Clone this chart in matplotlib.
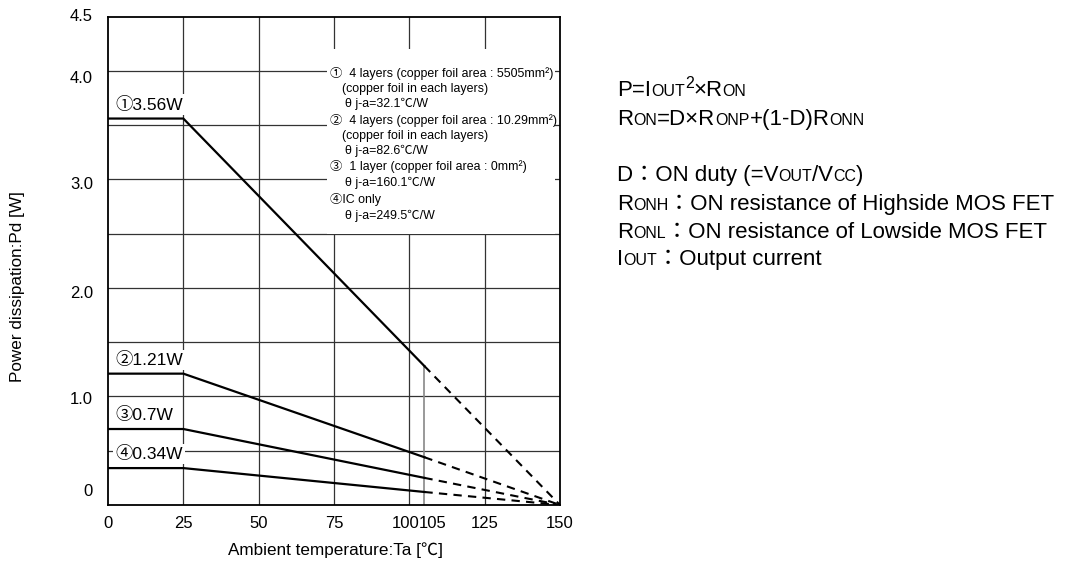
import matplotlib
matplotlib.use('Agg')
import matplotlib.pyplot as plt
from matplotlib.patches import Rectangle

plt.rcParams['font.family'] = ['Liberation Sans', 'Noto Sans CJK JP', 'DejaVu Sans']

# derating curves: solid part 0..105 degC, dashed part 105..150 degC
ta_solid = [0, 25, 105]
ta_dash = [105, 150]
pd_1 = [3.56, 3.56, 1.28]
pd_2 = [1.21, 1.21, 0.44]
pd_3 = [0.70, 0.70, 0.25]
pd_4 = [0.34, 0.34, 0.12]
curves = [pd_1, pd_2, pd_3, pd_4]
curve_labels = ['①3.56W', '②1.21W', '③0.7W', '④0.34W']

x_ticks = [0, 25, 50, 75, 100, 105, 125, 150]
x_grid = [25, 50, 75, 100, 125]
y_ticks = [0, 1.0, 2.0, 3.0, 4.0, 4.5]
y_ticklabels = ['0', '1.0', '2.0', '3.0', '4.0', '4.5']
y_grid = [0.5, 1.0, 1.5, 2.0, 2.5, 3.0, 3.5, 4.0]

legend_lines = [
    ('①  4 layers (copper foil area : 5505mm²)', 0),
    ('(copper foil in each layers)', 1),
    ('θ j-a=32.1℃/W', 2),
    ('②  4 layers (copper foil area : 10.29mm²)', 0),
    ('(copper foil in each layers)', 1),
    ('θ j-a=82.6℃/W', 2),
    ('③  1 layer (copper foil area : 0mm²)', 0),
    ('θ j-a=160.1℃/W', 2),
    ('④IC only', 0),
    ('θ j-a=249.5℃/W', 2),
]

W, H = 1065, 567
fig = plt.figure(figsize=(W / 100, H / 100), dpi=100)
ax = fig.add_axes([108 / W, 62 / H, 452 / W, 488.5 / H])
ax.set_xlim(0, 150)
ax.set_ylim(0, 4.5)

for g in x_grid:
    ax.axvline(g, color='#333333', lw=0.9, zorder=1)
for g in y_grid:
    ax.axhline(g, color='#333333', lw=0.9, zorder=1)
# partial line at 105 degC
ax.plot([105, 105], [0, pd_1[-1]], color='#888888', lw=1.2, zorder=1)

# white area behind the note
ax.add_patch(Rectangle((0.485, 2.5), 0.505, 1.7, transform=ax.get_yaxis_transform(),
                       facecolor='white', edgecolor='none', zorder=2))

for pd_vals, lab in zip(curves, curve_labels):
    ax.plot(ta_solid, pd_vals, color='black', lw=1.6, zorder=4)
    ax.plot(ta_dash, [pd_vals[-1], 0], color='black', lw=1.5, ls=(0, (4, 3)), zorder=4)
    ax.annotate(lab, (2.3, pd_vals[0]), xytext=(0, 9), textcoords='offset pixels',
                ha='left', va='baseline', fontsize=12.5, zorder=3,
                bbox=dict(boxstyle='square,pad=0.12', fc='white', ec='none'))

ys = [0.883, 0.852, 0.822, 0.787, 0.756, 0.725, 0.693, 0.660, 0.625, 0.592]
indent = [0.491, 0.518, 0.525]
for (txt, lvl), yy in zip(legend_lines, ys):
    ax.text(indent[lvl], yy, txt, transform=ax.transAxes, fontsize=8.9,
            ha='left', va='center', zorder=5)

ax.set_xticks(x_ticks)
ax.set_yticks(y_ticks)
ax.set_xticklabels([])
ax.set_yticklabels([])
ax.tick_params(length=0)
for sp in ax.spines.values():
    sp.set_linewidth(1.3)
    sp.set_zorder(6)

x_shift = {100: -4, 105: 8}
for t in x_ticks:
    ax.annotate(str(t), (t, 0), xycoords=('data', 'axes fraction'),
                xytext=(x_shift.get(t, 0), -11), textcoords='offset pixels',
                ha='center', va='top', fontsize=12)
y_shift = {0: 14, 4.0: -8, 3.0: -5, 2.0: -6, 1.0: -3}
for t, lab in zip(y_ticks, y_ticklabels):
    ax.annotate(lab, (0, t), xycoords=('axes fraction', 'data'),
                xytext=(-15, y_shift.get(t, 0)), textcoords='offset pixels',
                ha='right', va='center', fontsize=12)

fig.text(18 / W, 1 - 287 / H, 'Power dissipation:Pd [W]', rotation=90,
         ha='center', va='center', fontsize=12.3)
fig.text(335 / W, 1 - 550 / H, 'Ambient temperature:Ta [℃]',
         ha='center', va='center', fontsize=12.3)

# formula block on the right, small caps drawn as smaller letters
BIG, SMALL = 16, 11.5
formula = [
    [('P=I', BIG, 0), ('OUT', SMALL, 0), ('2', SMALL, 8), ('×R', BIG, 0), ('ON', SMALL, 0)],
    [('R', BIG, 0), ('ON', SMALL, 0), ('=D×R', BIG, 0), ('ONP', SMALL, 0),
     ('+(1-D)R', BIG, 0), ('ONN', SMALL, 0)],
    [('D：ON duty (=V', BIG, 0), ('OUT', SMALL, 0), ('/V', BIG, 0), ('CC', SMALL, 0), (')', BIG, 0)],
    [('R', BIG, 0), ('ONH', SMALL, 0), ('：ON resistance of Highside MOS FET', BIG, 0)],
    [('R', BIG, 0), ('ONL', SMALL, 0), ('：ON resistance of Lowside MOS FET', BIG, 0)],
    [('I', BIG, 0), ('OUT', SMALL, 0), ('：Output current', BIG, 0)],
]
baselines = [96, 125, 181, 210, 238, 265]

renderer = fig.canvas.get_renderer()
for parts, yb in zip(formula, baselines):
    xp = 617
    for s, size, rise in parts:
        t = fig.text(xp / W, 1 - (yb - rise) / H, s, fontsize=size,
                     ha='left', va='baseline')
        xp += t.get_window_extent(renderer=renderer).width

fig.savefig('out.png', dpi=100)
